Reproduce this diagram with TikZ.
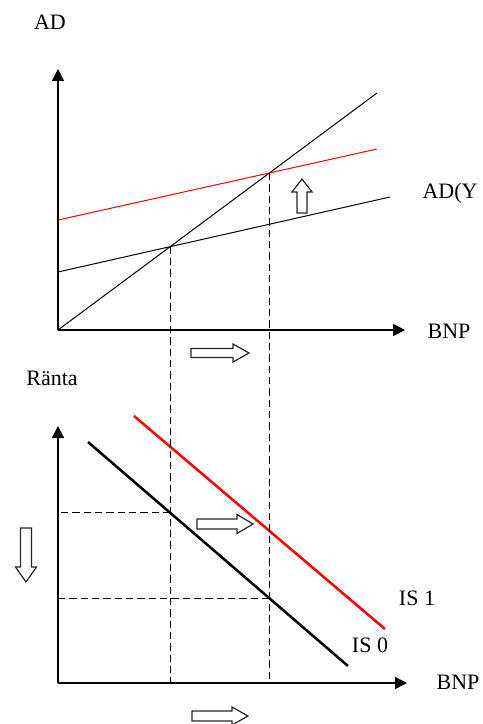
\documentclass[tikz,border=0pt]{standalone}
\usepackage{fontspec}
\setmainfont{Liberation Serif}
\usetikzlibrary{arrows.meta,intersections}
\begin{document}
\begin{tikzpicture}[x=0.75pt,y=-0.75pt,
  axis/.style={line width=1.1pt,-{Triangle[length=9pt,width=9pt]}},
  thin/.style={line width=0.75pt},
  thick/.style={line width=1.9pt},
  guide/.style={line width=0.8pt,dash pattern=on 5.5pt off 3pt},
  hollow/.style={draw=black!85,line width=0.9pt,fill=white,line join=miter},
  lbl/.style={font=\fontsize{16.5}{18}\selectfont,inner sep=0pt},
  pics/harrow/.style n args={4}{code={%
    \draw[hollow] (0,-#2) -- (#1-#4,-#2) -- (#1-#4,-#3) -- (#1,0) -- (#1-#4,#3) -- (#1-#4,#2) -- (0,#2) -- cycle;}}]
\useasboundingbox (0,0) rectangle (482,724);

% ---------- top panel ----------
\coordinate (O1) at (58,330);
\coordinate (Y1) at (58,69);
\coordinate (X1) at (405,330);
\coordinate (L45e) at (377,93);
\coordinate (AD0s) at (58,272);
\coordinate (AD0e) at (390,197);
\coordinate (AD1s) at (58,220);
\coordinate (AD1e) at (377,149);

\draw[thin,name path=l45] (O1) -- (L45e);
\draw[thin,name path=ad0] (AD0s) -- (AD0e);
\draw[thin,red,name path=ad1] (AD1s) -- (AD1e);
\draw[axis] (O1) -- (Y1);
\draw[axis] (O1) -- (X1);

\path[name intersections={of=l45 and ad0,by=A}];
\path[name intersections={of=l45 and ad1,by=B}];

\node[lbl] (adlab) at (50,22) {AD};
\node[lbl] (bnp1) at (449,331) {BNP};
\node[lbl] (adylab) at (450,193) {AD(Y};

\pic at (302,213) [rotate=90] {harrow={34}{5}{10}{13}};
\pic at (191,353) {harrow={58}{4.5}{9}{16}};

% ---------- bottom panel ----------
\coordinate (O2) at (58,683);
\coordinate (Y2) at (58,426);
\coordinate (X2) at (407,683);
\coordinate (IS0s) at (88,442);
\coordinate (IS0e) at (348,666);
\coordinate (IS1s) at (134,416);
\coordinate (IS1e) at (385,629);

\draw[thick,name path=is0] (IS0s) -- (IS0e);
\draw[thick,red] (IS1s) -- (IS1e);

\coordinate (A2) at (A |- O2);
\coordinate (B2) at (B |- O2);
\path[name path=va] (A) -- (A2);
\path[name path=vb] (B) -- (B2);
\path[name intersections={of=va and is0,by=P}];
\path[name intersections={of=vb and is0,by=Q}];

\draw[guide] (A) -- (A2);
\draw[guide] (B) -- (B2);
\draw[guide] (P) -- (P -| O2);
\draw[guide] (Q) -- (Q -| O2);

\draw[axis] (O2) -- (Y2);
\draw[axis] (O2) -- (X2);

\node[lbl] (ranta) at (52,378) {Ränta};
\node[lbl] (bnp2) at (458,682) {BNP};
\node[lbl] (is1) at (417,598) {IS 1};
\node[lbl] (is0) at (370,645) {IS 0};

\pic at (26,528) [rotate=-90] {harrow={54}{5.5}{10.5}{15}};
\pic at (197,524) {harrow={56}{5}{9.5}{16}};
\pic at (192,716) {harrow={56}{5}{9}{16}};
\end{tikzpicture}
\end{document}
